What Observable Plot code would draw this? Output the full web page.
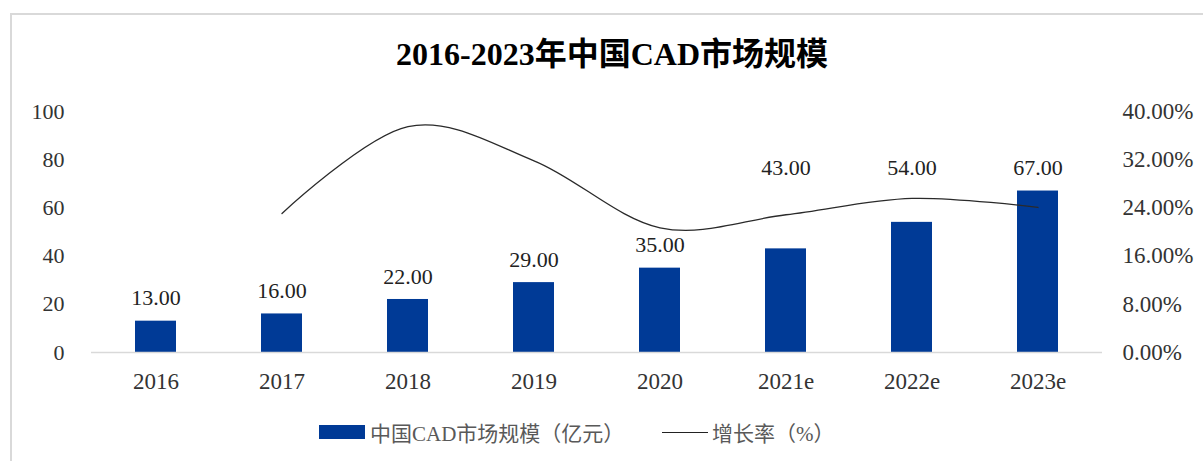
<!DOCTYPE html>
<html><head><meta charset="utf-8">
<script src="https://cdn.jsdelivr.net/npm/d3@7"></script>
<script src="https://cdn.jsdelivr.net/npm/@observablehq/plot@0.6"></script>
<style>
body{margin:0;width:1203px;height:461px;overflow:hidden;background:#fff;position:relative;font-family:"Liberation Serif","Noto Sans CJK SC",serif;}
#frame{position:absolute;left:10px;top:13px;width:1400px;height:700px;border:2px solid #d9d9d9;box-sizing:border-box;}
#title{position:absolute;left:0;top:34px;width:1203px;padding-left:21px;box-sizing:border-box;text-align:center;font-size:32px;font-weight:bold;line-height:40px;color:#000;white-space:nowrap;}
#chart{position:absolute;left:0;top:80px;}
.leg{position:absolute;top:420px;height:24px;display:flex;align-items:center;font-size:21px;color:#595959;white-space:nowrap;}
.sw-bar{width:46px;height:14px;background:#003a96;margin-right:5px;}
.sw-line{width:46px;height:0;border-top:1.4px solid #222;margin-right:4px;}
</style>
</head><body>
<div id="frame"></div>
<div id="title">2016-2023年中国CAD市场规模</div>
<div id="chart"></div>
<div class="leg" style="left:319px"><div class="sw-bar"></div><span>中国CAD市场规模（亿元）</span></div>
<div class="leg" style="left:662px"><div class="sw-line"></div><span>增长率（%）</span></div>
<script>
const years = ["2016","2017","2018","2019","2020","2021e","2022e","2023e"];
const marketSize = [13, 16, 22, 29, 35, 43, 54, 67];
const growthYears = ["2017","2018","2019","2020","2021e","2022e","2023e"];
const growthRate = [23.08, 37.50, 31.82, 20.69, 22.86, 25.58, 24.07];
const leftTicks = [0, 20, 40, 60, 80, 100];
const rightTicks = [0, 8, 16, 24, 32, 40];

const leftMax = 100, rightMax = 40, k = leftMax / rightMax;
const bars = years.map((y, i) => ({year: y, value: marketSize[i]}));
const growth = growthYears.map((y, i) => ({year: y, rate: growthRate[i]}));

// Data labels: lift a label to the top label level when it would sit on the growth line
const topValue = d3.max(marketSize);
const rateByYear = new Map(growth.map(d => [d.year, d.rate * k]));
const labelAnchor = d => {
  const line = rateByYear.get(d.year);
  const labelCenter = d.value + 9.5;
  return (line !== undefined && Math.abs(labelCenter - line) < 6) ? topValue : d.value;
};

const chart = Plot.plot({
  width: 1203, height: 330,
  marginTop: 31, marginBottom: 58, marginLeft: 91, marginRight: 101,
  x: {domain: years, paddingInner: 0.675, paddingOuter: 0.3375, label: null},
  y: {domain: [0, leftMax], label: null},
  style: {fontFamily: '"Liberation Serif","Noto Sans CJK SC",serif', color: "#333", background: "transparent", overflow: "visible"},
  marks: [
    Plot.axisX({tickSize: 0, tickPadding: 20, fontSize: 23, label: null}),
    Plot.axisY({anchor: "left", ticks: leftTicks, tickSize: 0, tickPadding: 27, fontSize: 22, label: null}),
    Plot.axisY({anchor: "right", ticks: rightTicks.map(v => v * k), tickFormat: d => (d / k).toFixed(2) + "%", tickSize: 0, tickPadding: 20, fontSize: 23, label: null}),
    Plot.barY(bars, {x: "year", y: "value", fill: "#003a96"}),
    Plot.ruleY([0], {stroke: "#d9d9d9", strokeWidth: 1.5}),
    Plot.line(growth, {x: "year", y: d => d.rate * k, curve: "cardinal", stroke: "#2a2a2a", strokeWidth: 1.3}),
    Plot.text(bars, {x: "year", y: labelAnchor, text: d => d.value.toFixed(2), dy: -23, fontSize: 22, fill: "#222"})
  ]
});
document.getElementById("chart").appendChild(chart);
</script>
</body></html>
